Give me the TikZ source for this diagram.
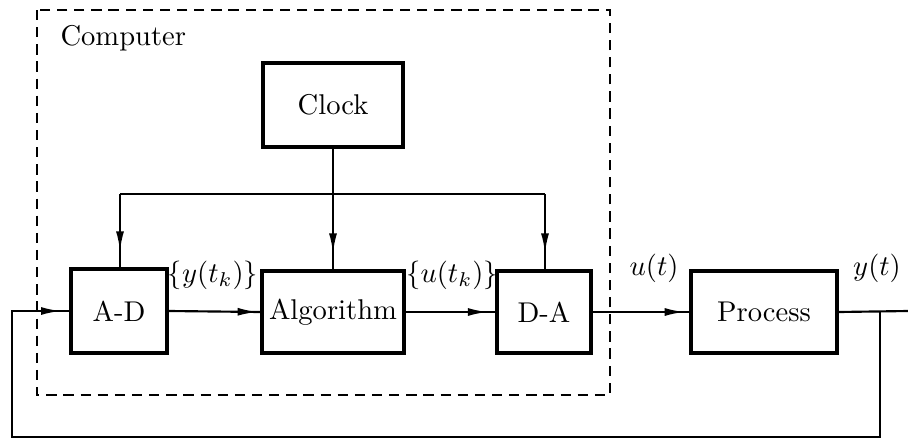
\documentclass[tikz,border=0pt]{standalone}
\usetikzlibrary{arrows.meta,decorations.markings}
\begin{document}
\begin{tikzpicture}[x=0.35pt,y=-0.35pt,
  blk/.style={draw,line width=1.4pt,inner sep=0pt,font=\normalsize},
  conn/.style={line width=0.75pt},
  tipat/.style={postaction={decorate},decoration={markings,
     mark=at position #1 with {\arrow{Latex[length=7pt,width=2.8pt]}}}},
  lbl/.style={inner sep=0pt}]
\useasboundingbox (0,0) rectangle (908,439);
% computer frame
\draw[line width=0.8pt,dash pattern=on 3.6pt off 2.4pt] (37,10) rectangle (610,395);
\node[lbl,anchor=west] (comp) at (60,38) {Computer};
% blocks
\node[blk,minimum width=49pt,minimum height=29.4pt] (clk) at (333,105) {Clock};
\node[blk,minimum width=33.6pt,minimum height=29.4pt] (ad) at (119,311) {A-D};
\node[blk,minimum width=49.4pt,minimum height=28.7pt] (alg) at (333,312) {Algorithm};
\node[blk,minimum width=32.9pt,minimum height=28.7pt] (da) at (544,312) {D-A};
\node[blk,minimum width=51.1pt,minimum height=28.7pt] (proc) at (764,312) {Process};
% labels
\node[lbl] (lyk) at (213,275) {$\{y(t_k)\}$};
\node[lbl] (luk) at (452,275) {$\{u(t_k)\}$};
\node[lbl] (lu) at (654,268) {$u(t)$};
\node[lbl] (ly) at (877,268) {$y(t)$};
% coordinates
\coordinate (tl) at (120,194);
\coordinate (tr) at (545,194);
\coordinate (out) at (908,311);
\coordinate (j) at (880,311);
\coordinate (br) at (880,437);
\coordinate (bl) at (12,437);
\coordinate (il) at (12,311);
% connectors
\draw[conn,tipat=-5.5pt] (clk.south) -- (alg.north);
\draw[conn] (tl) -- (tr);
\draw[conn,tipat=-5.5pt] (tl) -- (tl |- ad.north);
\draw[conn,tipat=-5.5pt] (tr) -- (tr |- da.north);
\draw[conn,tipat=-1pt] (ad.east) -- (alg.west);
\draw[conn,tipat=-2.5pt] (alg.east) -- (da.west);
\draw[conn,tipat=-1.5pt] (da.east) -- (proc.west);
\draw[conn] (proc.east) -- (out);
\draw[conn,tipat=-2.8pt] (j) -- (br) -- (bl) -- (il) -- (il -| ad.west);
\end{tikzpicture}
\end{document}
